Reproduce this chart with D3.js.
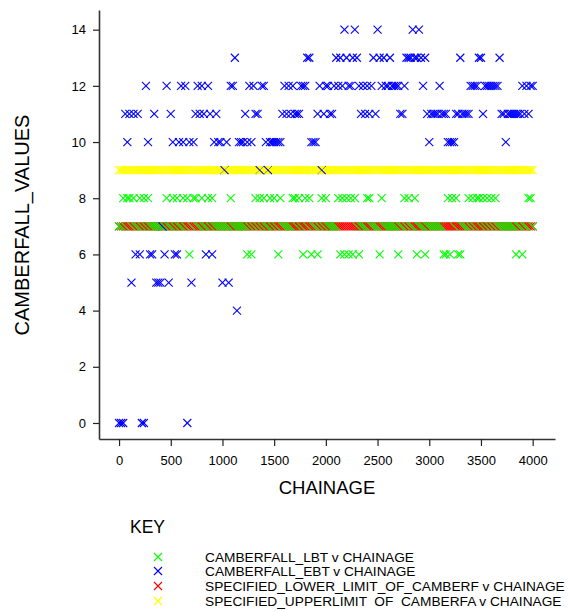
<!DOCTYPE html>
<html>
<head>
<meta charset="utf-8">
<script src="https://cdn.jsdelivr.net/npm/d3@7"></script>
<style>
  body { margin: 0; background: #fff; }
  svg { display: block; }
  text { font-family: "Liberation Sans", Arial, sans-serif; fill: #000; }
</style>
</head>
<body>
<svg id="chart" width="571" height="612"></svg>
<script>
// Survey chainage (m), one reading every 20 m
const chainage = [
  0,20,40,60,80,100,120,140,160,180,
  200,220,240,260,280,300,320,340,360,380,
  400,420,440,460,480,500,520,540,560,580,
  600,620,640,660,680,700,720,740,760,780,
  800,820,840,860,880,900,920,940,960,980,
  1000,1020,1040,1060,1080,1100,1120,1140,1160,1180,
  1200,1220,1240,1260,1280,1300,1320,1340,1360,1380,
  1400,1420,1440,1460,1480,1500,1520,1540,1560,1580,
  1600,1620,1640,1660,1680,1700,1720,1740,1760,1780,
  1800,1820,1840,1860,1880,1900,1920,1940,1960,1980,
  2000,2020,2040,2060,2080,2100,2120,2140,2160,2180,
  2200,2220,2240,2260,2280,2300,2320,2340,2360,2380,
  2400,2420,2440,2460,2480,2500,2520,2540,2560,2580,
  2600,2620,2640,2660,2680,2700,2720,2740,2760,2780,
  2800,2820,2840,2860,2880,2900,2920,2940,2960,2980,
  3000,3020,3040,3060,3080,3100,3120,3140,3160,3180,
  3200,3220,3240,3260,3280,3300,3320,3340,3360,3380,
  3400,3420,3440,3460,3480,3500,3520,3540,3560,3580,
  3600,3620,3640,3660,3680,3700,3720,3740,3760,3780,
  3800,3820,3840,3860,3880,3900,3920,3940,3960,3980,
  4000
];

// CAMBERFALL_LBT
const camberfallLBT = [
  7,7,8,7,8,8,7,8,7,7,
  8,7,8,7,8,7,7,7,7,7,
  7,7,7,8,7,7,8,7,8,7,
  7,8,7,8,6,7,8,8,7,7,
  8,7,7,8,7,8,7,7,7,7,
  7,7,7,7,8,7,7,7,7,7,
  7,7,6,7,6,7,8,7,8,7,
  8,7,7,8,7,8,7,6,8,7,
  7,7,7,7,8,8,7,8,7,6,
  8,7,8,6,7,7,6,7,8,7,
  8,7,7,7,7,7,8,6,8,6,
  8,6,8,6,8,7,6,7,7,7,
  8,8,7,7,7,7,6,8,7,7,
  7,7,7,7,7,6,7,7,8,7,
  8,7,7,8,6,7,7,7,6,7,
  7,7,7,7,7,7,7,6,6,8,
  6,8,7,8,6,6,7,7,7,8,
  7,8,7,8,8,7,8,7,8,7,
  8,7,8,7,7,7,7,7,7,7,
  7,7,6,7,7,6,7,7,8,8,
  7
];

// CAMBERFALL_EBT
const camberfallEBT = [
  0,0,0,11,10,11,5,11,6,11,
  6,0,0,12,10,6,6,11,5,5,
  5,7,6,12,5,11,10,6,6,10,
  12,10,12,0,10,5,10,11,12,11,
  12,11,6,12,11,6,10,11,10,10,
  5,9,10,5,12,12,13,4,10,10,
  10,11,10,12,10,12,11,11,9,12,
  12,10,9,10,10,10,10,10,10,11,
  12,11,12,11,12,11,11,11,12,12,
  12,13,13,10,10,10,11,12,9,11,
  12,12,11,11,12,13,12,13,12,14,
  13,12,12,13,14,13,12,11,12,11,
  12,11,12,13,11,14,13,12,13,12,
  12,13,12,12,12,12,11,11,12,13,
  13,13,14,13,13,14,13,12,13,11,
  10,11,11,11,11,12,11,11,11,10,
  10,10,10,11,11,13,11,11,11,11,
  12,12,12,12,13,13,11,12,12,12,
  12,12,12,12,13,11,11,10,11,11,
  11,11,11,11,11,12,11,12,11,12,
  12
];

// SPECIFIED_LOWER_LIMIT_OF_CAMBERFALL
const lowerLimit = [
  7,7,7,7,7,7,7,7,7,7, 7,7,7,7,7,7,7,7,7,7,
  7,7,7,7,7,7,7,7,7,7, 7,7,7,7,7,7,7,7,7,7,
  7,7,7,7,7,7,7,7,7,7, 7,7,7,7,7,7,7,7,7,7,
  7,7,7,7,7,7,7,7,7,7, 7,7,7,7,7,7,7,7,7,7,
  7,7,7,7,7,7,7,7,7,7, 7,7,7,7,7,7,7,7,7,7,
  7,7,7,7,7,7,7,7,7,7, 7,7,7,7,7,7,7,7,7,7,
  7,7,7,7,7,7,7,7,7,7, 7,7,7,7,7,7,7,7,7,7,
  7,7,7,7,7,7,7,7,7,7, 7,7,7,7,7,7,7,7,7,7,
  7,7,7,7,7,7,7,7,7,7, 7,7,7,7,7,7,7,7,7,7,
  7,7,7,7,7,7,7,7,7,7, 7,7,7,7,7,7,7,7,7,7,
  7
];

// SPECIFIED_UPPERLIMIT_OF_CAMBERFALL
const upperLimit = [
  9,9,9,9,9,9,9,9,9,9, 9,9,9,9,9,9,9,9,9,9,
  9,9,9,9,9,9,9,9,9,9, 9,9,9,9,9,9,9,9,9,9,
  9,9,9,9,9,9,9,9,9,9, 9,9,9,9,9,9,9,9,9,9,
  9,9,9,9,9,9,9,9,9,9, 9,9,9,9,9,9,9,9,9,9,
  9,9,9,9,9,9,9,9,9,9, 9,9,9,9,9,9,9,9,9,9,
  9,9,9,9,9,9,9,9,9,9, 9,9,9,9,9,9,9,9,9,9,
  9,9,9,9,9,9,9,9,9,9, 9,9,9,9,9,9,9,9,9,9,
  9,9,9,9,9,9,9,9,9,9, 9,9,9,9,9,9,9,9,9,9,
  9,9,9,9,9,9,9,9,9,9, 9,9,9,9,9,9,9,9,9,9,
  9,9,9,9,9,9,9,9,9,9, 9,9,9,9,9,9,9,9,9,9,
  9
];

const xTicks = [0, 500, 1000, 1500, 2000, 2500, 3000, 3500, 4000];
const yTicks = [0, 2, 4, 6, 8, 10, 12, 14];

const legendLabels = [
  "CAMBERFALL_LBT v CHAINAGE",
  "CAMBERFALL_EBT v CHAINAGE",
  "SPECIFIED_LOWER_LIMIT_OF_CAMBERF v CHAINAGE",
  "SPECIFIED_UPPERLIMIT  OF  CAMBERFA v CHAINAGE"
];
const legendColors = ["#00ff00", "#0000ff", "#ff0000", "#ffff00"];

// Series in the order they are plotted at each chainage
const series = [
  { values: lowerLimit,    color: "#ff0000" },
  { values: upperLimit,    color: "#ffff00" },
  { values: camberfallLBT, color: "#00ff00" },
  { values: camberfallEBT, color: "#0000ff" }
];

const svg = d3.select("#chart");

const x = d3.scaleLinear().domain([-194, 4216]).range([99, 555]);
const y = d3.scaleLinear().domain([-0.57, 14.7]).range([439, 10]);

// Flatten into plotting order: chainage first, then series
const points = [];
chainage.forEach((c, i) => {
  series.forEach(s => points.push({ c, v: s.values[i], color: s.color }));
});

const r = 4;
const plot = svg.append("g");
// Each cross is drawn as two strokes; all "/" strokes first, then all "\" strokes
plot.append("g").selectAll("line").data(points).join("line")
  .attr("x1", d => x(d.c) - r).attr("y1", d => y(d.v) + r)
  .attr("x2", d => x(d.c) + r).attr("y2", d => y(d.v) - r)
  .attr("stroke", d => d.color).attr("stroke-width", 1.1);
plot.append("g").selectAll("line").data(points).join("line")
  .attr("x1", d => x(d.c) - r).attr("y1", d => y(d.v) - r)
  .attr("x2", d => x(d.c) + r).attr("y2", d => y(d.v) + r)
  .attr("stroke", d => d.color).attr("stroke-width", 1.1);

// Axes
const xAxis = svg.append("g").attr("transform", "translate(0,439)")
  .call(d3.axisBottom(x).tickValues(xTicks).tickSizeInner(7).tickSizeOuter(0).tickPadding(10).tickFormat(d3.format("d")));
const yAxis = svg.append("g").attr("transform", "translate(99,0)")
  .call(d3.axisLeft(y).tickValues(yTicks).tickSizeInner(6).tickSizeOuter(0).tickPadding(7).tickFormat(d3.format("d")));

[xAxis, yAxis].forEach(a => {
  a.select(".domain").attr("stroke", "#333").attr("stroke-width", 1.6);
  a.selectAll(".tick line").attr("stroke", "#222").attr("stroke-width", 1.2);
  a.selectAll(".tick text").attr("font-size", 13).attr("fill", "#000")
    .attr("font-family", "'Liberation Sans', Arial, sans-serif");
});

// Axis titles
svg.append("text").attr("x", 327).attr("y", 494).attr("text-anchor", "middle")
  .attr("font-size", 18.5).text("CHAINAGE");
svg.append("text").attr("transform", "translate(29,225) rotate(-90)")
  .attr("text-anchor", "middle").attr("font-size", 20).text("CAMBERFALL_VALUES");

// Key
svg.append("text").attr("x", 130).attr("y", 533).attr("font-size", 17.5).text("KEY");
const legendY = [557, 571, 586, 601];
const lg = svg.append("g");
lg.selectAll("path").data(legendLabels).join("path")
  .attr("d", (d, i) => `M${158 - r},${legendY[i] - r}L${158 + r},${legendY[i] + r}M${158 - r},${legendY[i] + r}L${158 + r},${legendY[i] - r}`)
  .attr("stroke", (d, i) => legendColors[i]).attr("stroke-width", 1.1).attr("fill", "none");
lg.selectAll("text").data(legendLabels).join("text")
  .attr("x", 205).attr("y", (d, i) => legendY[i] + 4.8)
  .attr("font-size", 13.7).style("white-space", "pre").text(d => d);
</script>
</body>
</html>
